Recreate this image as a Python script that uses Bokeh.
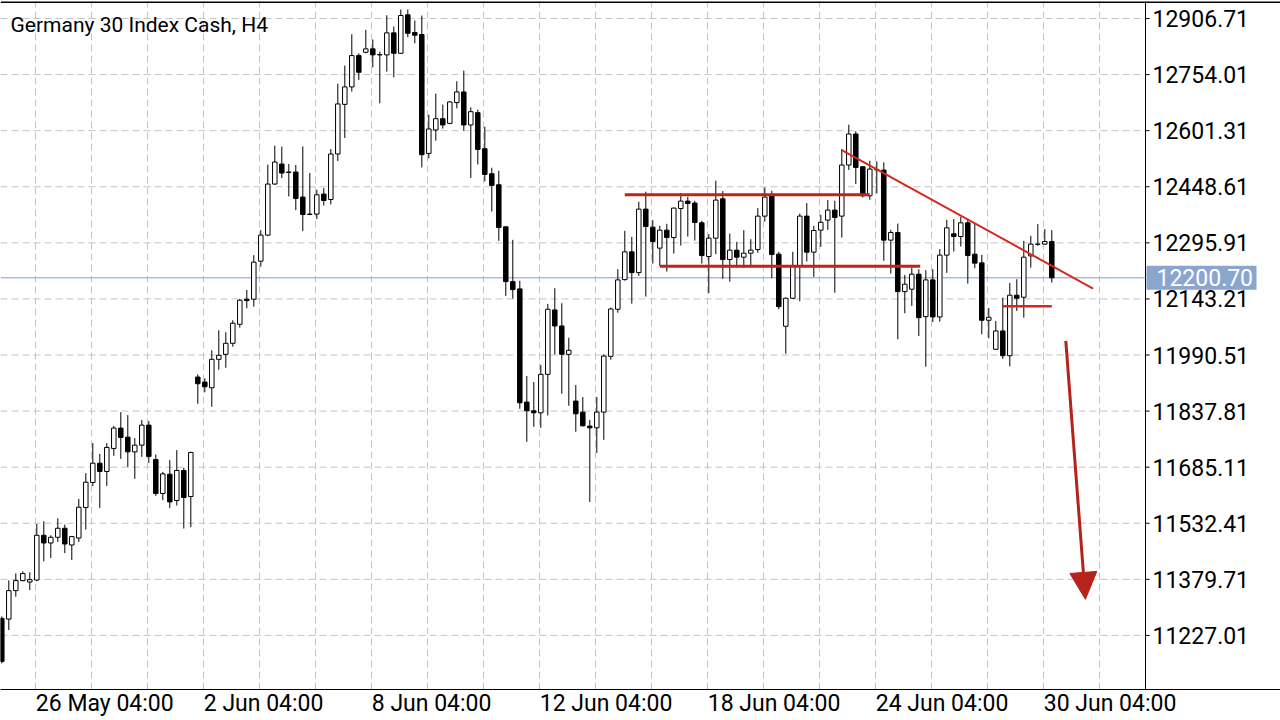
from bokeh.plotting import figure
from bokeh.models import FixedTicker, Label, Arrow, NormalHead, ColumnDataSource
from bokeh.embed import file_html
from bokeh.resources import INLINE
from bokeh.core.properties import value

chart_title = "Germany 30 Index Cash, H4"

opens = [11273.4, 11271.5, 11348.9, 11376.2, 11372.3, 11377.8, 11499.7, 11478.7, 11494.2, 11518.8,
         11473.2, 11492.3, 11575.2, 11643.4, 11696.0, 11673.4, 11736.1, 11791.5, 11766.9, 11726.8,
         11745.1, 11799.6, 11706.1, 11613.4, 11666.0, 11594.3, 11676.1, 11605.2, 11930.5, 11916.9,
         11901.3, 11978.8, 11992.4, 12022.4, 12074.2, 12142.4, 12142.4, 12246.0, 12316.9, 12456.0,
         12510.5, 12488.7, 12488.7, 12420.5, 12374.2, 12374.2, 12428.7, 12414.0, 12537.8, 12673.0,
         12720.5, 12805.8, 12814.8, 12824.1, 12808.5, 12807.7, 12867.7, 12812.1, 12916.8, 12868.5,
         12863.1, 12539.4, 12603.2, 12634.0, 12621.2, 12677.7, 12706.8, 12616.9, 12650.4, 12552.2,
         12484.1, 12454.1, 12339.5, 12190.4, 12170.5, 11862.4, 11838.6, 11833.2, 11937.9, 12113.2,
         12069.6, 11992.4, 11865.1, 11835.1, 11796.9, 11792.3, 11835.1, 11987.0, 12115.1, 12195.8,
         12271.4, 12214.9, 12387.8, 12338.7, 12281.5, 12330.5, 12310.4, 12389.4, 12409.6, 12404.2,
         12350.4, 12258.6, 12308.7, 12415.9, 12250.4, 12276.0, 12256.9, 12267.8, 12277.6, 12368.7,
         12426.8, 12265.1, 12068.8, 12145.1, 12233.2, 12368.7, 12270.6, 12330.5, 12357.8, 12385.1,
         12368.7, 12507.8, 12592.3, 12503.1, 12424.1, 12495.0, 12494.1, 12303.3, 12324.0, 12163.1,
         12169.7, 12210.6, 12094.9, 12195.0, 12094.1, 12262.4, 12320.5, 12313.1, 12350.4, 12265.1,
         12241.4, 12085.1, 12006.1, 12056.0, 11988.6, 12153.3, 12147.8, 12260.5, 12292.4, 12292.4,
         12299.5]
highs = [11278.8, 11377.0, 11396.1, 11401.5, 11398.8, 11530.5, 11537.9, 11499.7, 11546.0, 11528.9,
         11498.0, 11598.7, 11668.8, 11750.6, 11721.4, 11750.6, 11797.7, 11835.1, 11826.9, 11764.2,
         11813.3, 11810.5, 11719.7, 11672.3, 11704.2, 11731.5, 11683.2, 11727.0, 11937.9, 11927.0,
         12003.3, 12057.9, 12052.4, 12085.1, 12143.2, 12167.8, 12262.4, 12330.5, 12508.6, 12560.4,
         12557.7, 12510.5, 12507.8, 12558.5, 12486.0, 12440.4, 12445.1, 12551.4, 12729.5, 12778.6,
         12863.9, 12812.1, 12875.9, 12849.5, 12816.7, 12915.7, 12884.9, 12931.3, 12931.3, 12901.3,
         12914.9, 12644.9, 12702.2, 12672.2, 12681.0, 12735.7, 12764.9, 12664.8, 12658.6, 12612.2,
         12500.4, 12492.2, 12341.0, 12304.1, 12192.3, 11933.2, 11916.9, 11963.2, 12129.6, 12172.4,
         12131.5, 12037.7, 11908.7, 11876.0, 11813.3, 11876.0, 11992.4, 12119.5, 12224.2, 12328.6,
         12312.3, 12407.7, 12435.0, 12357.8, 12342.3, 12347.7, 12392.0, 12431.4, 12421.3, 12410.4,
         12355.9, 12319.6, 12465.0, 12436.9, 12321.3, 12298.6, 12330.5, 12306.0, 12390.5, 12446.7,
         12437.7, 12271.4, 12147.0, 12271.4, 12375.8, 12404.2, 12342.3, 12372.3, 12412.3, 12410.4,
         12551.4, 12617.7, 12600.0, 12505.0, 12519.5, 12517.6, 12514.9, 12331.4, 12348.5, 12208.7,
         12228.6, 12224.2, 12221.5, 12224.2, 12278.7, 12358.6, 12360.5, 12366.8, 12361.4, 12346.9,
         12263.2, 12118.7, 12083.2, 12146.8, 12186.8, 12196.9, 12301.4, 12315.0, 12346.9, 12333.3,
         12330.5]
lows = [11150.7, 11241.5, 11332.5, 11374.0, 11350.5, 11374.3, 11428.8, 11437.8, 11481.4, 11451.4,
        11432.3, 11481.4, 11515.2, 11633.3, 11574.1, 11634.1, 11715.9, 11707.7, 11685.9, 11653.2,
        11713.2, 11696.8, 11606.9, 11595.1, 11574.1, 11580.7, 11518.0, 11521.5, 11857.7, 11888.8,
        11849.5, 11950.4, 11955.9, 12013.1, 12065.0, 12117.9, 12122.2, 12231.3, 12314.0, 12454.0,
        12472.3, 12422.2, 12385.1, 12327.8, 12371.4, 12360.5, 12397.6, 12400.4, 12518.7, 12581.4,
        12707.7, 12739.6, 12812.0, 12773.9, 12675.8, 12762.2, 12746.7, 12810.0, 12855.7, 12839.4,
        12501.2, 12525.8, 12574.0, 12606.8, 12619.0, 12662.1, 12601.3, 12472.3, 12509.4, 12463.1,
        12381.3, 12301.4, 12151.4, 12144.0, 11844.1, 11754.1, 11795.0, 11792.3, 11826.1, 11992.4,
        11885.0, 11852.3, 11781.4, 11796.0, 11590.5, 11724.1, 11759.6, 11977.7, 12105.9, 12193.1,
        12130.4, 12205.9, 12149.5, 12239.5, 12233.2, 12217.7, 12266.7, 12288.5, 12313.1, 12302.2,
        12239.5, 12158.8, 12265.1, 12197.7, 12190.4, 12228.6, 12228.6, 12233.2, 12268.6, 12354.0,
        12199.7, 12115.1, 11994.1, 12143.0, 12136.9, 12244.9, 12203.2, 12285.0, 12331.4, 12160.4,
        12310.4, 12494.1, 12456.0, 12419.4, 12413.2, 12430.3, 12246.8, 12212.2, 12033.3, 12104.2,
        12124.1, 12042.3, 11958.6, 12080.5, 12081.3, 12214.1, 12272.2, 12285.8, 12184.9, 12226.9,
        12047.0, 12036.0, 12004.0, 11979.6, 11959.7, 12110.5, 12092.2, 12228.6, 12287.7, 12290.0,
        12187.7]
closes = [11156.1, 11348.9, 11376.2, 11395.3, 11378.9, 11499.7, 11478.7, 11494.2, 11518.8, 11476.0,
          11496.1, 11576.0, 11644.2, 11696.0, 11673.4, 11738.8, 11791.5, 11766.1, 11726.8, 11745.1,
          11799.6, 11714.3, 11613.4, 11666.8, 11590.5, 11676.1, 11602.5, 11725.2, 11912.3, 11904.1,
          11978.8, 11989.7, 12022.4, 12077.0, 12139.7, 12138.6, 12243.3, 12316.9, 12456.0, 12516.0,
          12486.0, 12487.6, 12416.7, 12373.1, 12373.1, 12426.8, 12411.3, 12537.8, 12674.1, 12720.5,
          12805.8, 12760.3, 12824.1, 12807.7, 12807.7, 12867.7, 12812.1, 12914.9, 12866.6, 12861.2,
          12535.9, 12605.9, 12634.0, 12616.9, 12679.6, 12706.8, 12616.9, 12653.1, 12550.3, 12482.1,
          12452.2, 12337.6, 12190.4, 12168.6, 11860.4, 11838.6, 11833.2, 11937.9, 12115.1, 12069.6,
          11992.4, 12003.3, 11830.4, 11797.7, 11792.3, 11835.1, 11987.8, 12115.9, 12195.0, 12271.4,
          12214.9, 12387.8, 12340.4, 12299.5, 12330.5, 12310.4, 12390.5, 12409.6, 12403.1, 12351.3,
          12261.3, 12308.7, 12412.3, 12250.4, 12276.0, 12256.9, 12267.8, 12276.0, 12368.7, 12420.5,
          12264.0, 12122.2, 12145.1, 12233.2, 12368.7, 12270.6, 12329.5, 12351.8, 12385.1, 12364.9,
          12507.8, 12592.3, 12501.2, 12424.1, 12496.9, 12496.0, 12303.3, 12324.0, 12163.1, 12183.3,
          12210.6, 12092.2, 12195.0, 12094.1, 12262.4, 12336.8, 12313.1, 12350.4, 12261.3, 12240.6,
          12085.1, 12093.3, 12056.0, 11988.6, 12153.3, 12145.1, 12256.9, 12292.4, 12291.8, 12299.5,
          12200.7]

date_labels = ["26 May 04:00", "2 Jun 04:00", "8 Jun 04:00", "12 Jun 04:00",
               "18 Jun 04:00", "24 Jun 04:00", "30 Jun 04:00"]
date_label_bars = [5, 29, 53, 77, 101, 125, 149]
price_ticks = [11227.01, 11379.71, 11532.41, 11685.11, 11837.81, 11990.51,
               12143.21, 12295.91, 12448.61, 12601.31, 12754.01, 12906.71]
last_price = 12200.70

# drawn analysis objects (bar index, price)
resistance_line = [(89.0, 12426.8), (124.0, 12426.8)]
support_line = [(94.0, 12232.4), (131.2, 12232.4)]
trend_line = [(120.0, 12548.7), (155.9, 12171.3)]
break_line = [(143.0, 12123.3), (150.0, 12123.3)]
target_arrow = [(152.0, 12028.7), (154.8, 11325.2)]

# ---------------- styling / layout ----------------
RED = "#d42a1e"
DARK_RED = "#c0231a"
ARROW_RED = "#b5231a"
GRID = "#c4c4c4"
PRICE_LINE = "#7aa0d4"
TAG_BG = "#8aa6cf"
FONT = "Roboto"
AX_FS = "23px"

BAR_PX = 7.0                      # horizontal pixels per bar
X0 = -1.3 / BAR_PX                # left edge of canvas in bar units
X_MAX = X0 + 1280 / BAR_PX
AXIS_X = X0 + 1145 / BAR_PX       # price scale boundary
Y_TOP, Y_BOT = 12953.06, 11079.75
PRICE_PX = (Y_TOP - Y_BOT) / 687  # price units per vertical pixel

# approximate Roboto advance widths (em) for centring left-aligned date labels
_ADV = {"0": .5615, "1": .5615, "2": .5615, "3": .5615, "4": .5615, "5": .5615, "6": .5615,
        "7": .5615, "8": .5615, "9": .5615, " ": .248, ":": .242, "M": .872, "a": .543,
        "y": .474, "J": .552, "u": .551, "n": .552}
def text_w_px(s, fs=23):
    return sum(_ADV.get(ch, .55) for ch in s) * fs

n = len(opens)
idx = list(range(n))
bull = [c >= o for o, c in zip(opens, closes)]
src = ColumnDataSource(dict(
    x=idx,
    top=[max(o, c) for o, c in zip(opens, closes)],
    bottom=[min(o, c) for o, c in zip(opens, closes)],
    high=highs, low=lows,
    fill=["white" if b else "black" for b in bull],
))

p = figure(width=1280, height=719, output_backend="svg", toolbar_location=None,
           x_range=(X0, X_MAX), y_range=(Y_BOT, Y_TOP),
           min_border_left=0, min_border_right=0, min_border_top=1, min_border_bottom=28)
p.background_fill_color = "white"
p.border_fill_color = "white"
p.outline_line_color = None
p.yaxis.visible = False

# vertical grid (every 8 bars)
grid_positions = [b - 0.14 for b in range(5, 160, 8)]
p.xgrid.ticker = FixedTicker(ticks=grid_positions)
p.xgrid.grid_line_color = GRID
p.xgrid.grid_line_dash = "7 4"
p.ygrid.visible = False
# horizontal grid only across the chart area
p.segment(x0=[X0] * len(price_ticks), x1=[AXIS_X] * len(price_ticks), y0=price_ticks, y1=price_ticks,
          line_color=GRID, line_dash="7 4", line_width=1)

# x axis (date labels, left-aligned at their bar)
label_pos = [b - 0.14 + text_w_px(s) / 2 / BAR_PX for b, s in zip(date_label_bars, date_labels)]
xa = p.xaxis[0]
xa.ticker = FixedTicker(ticks=label_pos)
xa.major_label_overrides = {pos: lab for pos, lab in zip(label_pos, date_labels)}
xa.major_tick_line_color = None
xa.major_tick_in = 0
xa.major_tick_out = 0
xa.minor_tick_line_color = None
xa.minor_tick_in = 0
xa.minor_tick_out = 0
xa.axis_line_color = "black"
xa.axis_line_width = 1
xa.major_label_text_font = FONT
xa.major_label_text_font_size = AX_FS
xa.major_label_text_color = "black"
xa.major_label_standoff = 0

# frame lines of the chart area and price scale
p.segment(x0=[AXIS_X], x1=[AXIS_X], y0=[Y_BOT], y1=[Y_TOP], line_color="black", line_width=1)
p.segment(x0=[X0], x1=[X_MAX], y0=[Y_TOP], y1=[Y_TOP], line_color="black", line_width=3)
p.segment(x0=[AXIS_X] * len(price_ticks), x1=[AXIS_X + 4 / BAR_PX] * len(price_ticks),
          y0=price_ticks, y1=price_ticks, line_color="black", line_width=1)
p.text(x=[AXIS_X + 7 / BAR_PX] * len(price_ticks), y=price_ticks,
       text=["%.2f" % v for v in price_ticks], text_font=value(FONT), text_font_size=AX_FS,
       text_color="black", text_align="left", text_baseline="middle")

# current price line
p.segment(x0=[X0], x1=[AXIS_X], y0=[last_price], y1=[last_price], line_color=PRICE_LINE, line_width=1)

# candles
p.segment(x0="x", y0="high", x1="x", y1="top", source=src, line_color="black", line_width=1)
p.segment(x0="x", y0="bottom", x1="x", y1="low", source=src, line_color="black", line_width=1)
p.vbar(x="x", top="top", bottom="bottom", width=0.64, source=src,
       fill_color="fill", line_color="black", line_width=1)

# analysis lines
def seg(pts, color, w):
    (xa0, ya0), (xa1, ya1) = pts
    p.segment(x0=[xa0], y0=[ya0], x1=[xa1], y1=[ya1], line_color=color, line_width=w)

seg(resistance_line, DARK_RED, 3)
seg(support_line, DARK_RED, 3)
seg(trend_line, RED, 2)
seg(break_line, RED, 2.5)
(ax0, ay0), (ax1, ay1) = target_arrow
p.add_layout(Arrow(end=NormalHead(size=27, fill_color=ARROW_RED, line_color=ARROW_RED),
                   x_start=ax0, y_start=ay0, x_end=ax1, y_end=ay1,
                   line_color=ARROW_RED, line_width=3))

# title inside the chart
p.add_layout(Label(x=10, y=Y_TOP - 23 * PRICE_PX, x_units="screen", y_units="data", text=chart_title,
                   text_font=FONT, text_font_size="21px", text_color="black",
                   text_baseline="middle", text_align="left"))

# last price tag on the price scale
p.quad(left=[AXIS_X + 1 / BAR_PX], right=[AXIS_X + 111 / BAR_PX],
       bottom=[last_price - 12 * PRICE_PX], top=[last_price + 12 * PRICE_PX],
       fill_color=TAG_BG, line_color=None)
p.text(x=[AXIS_X + 11 / BAR_PX], y=[last_price], text=["%.2f" % last_price],
       text_font=value(FONT), text_font_size=AX_FS, text_color="white",
       text_align="left", text_baseline="middle")

open("out.html", "w").write(file_html(p, INLINE))
